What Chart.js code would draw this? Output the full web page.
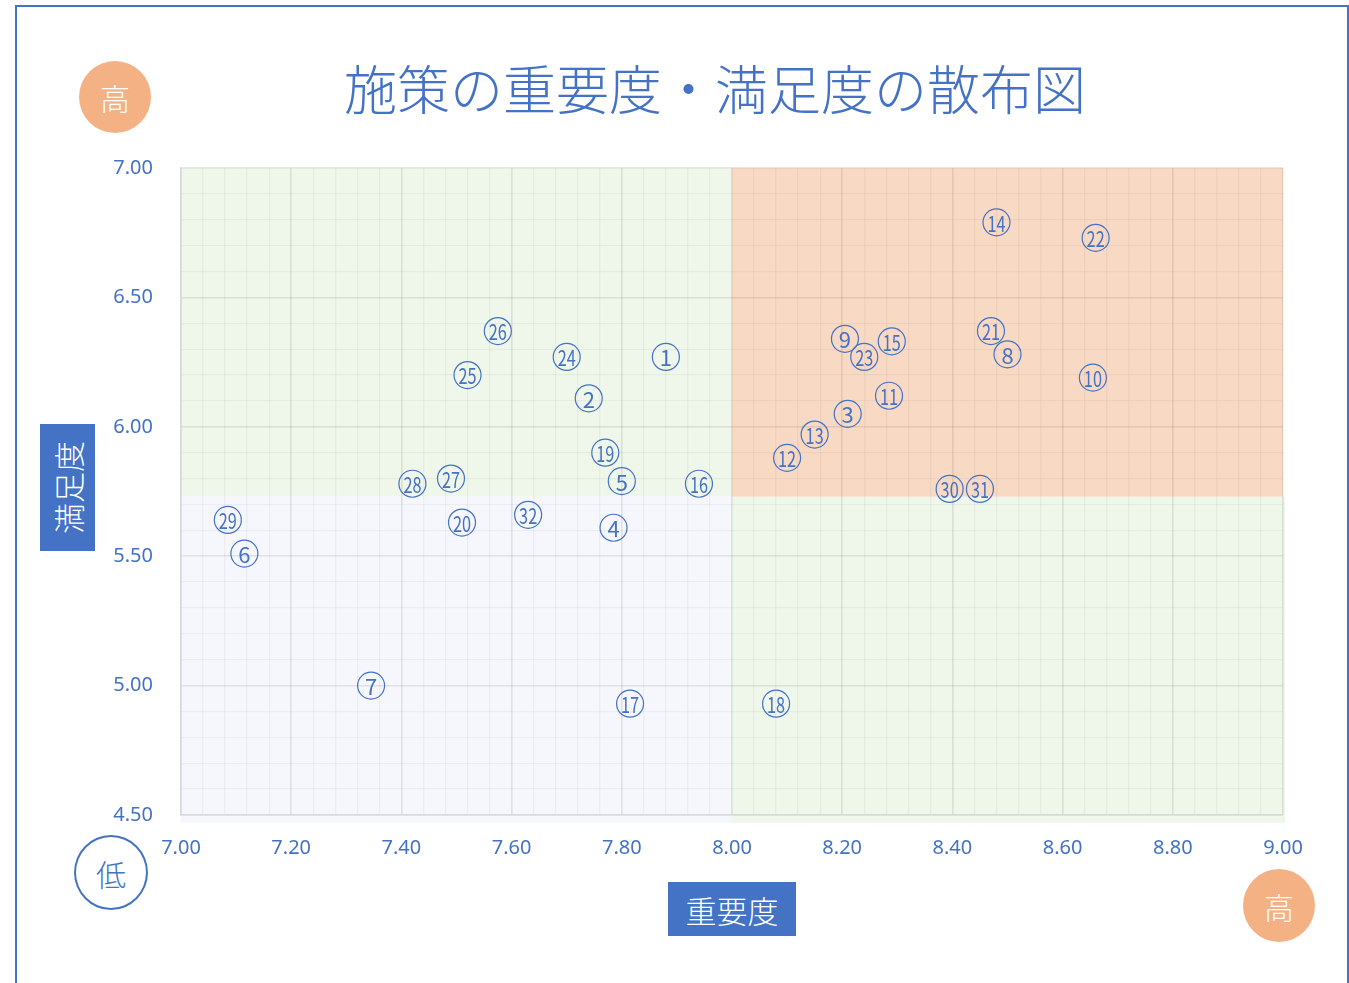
<!DOCTYPE html>
<html lang="ja">
<head>
<meta charset="utf-8">
<title>施策の重要度・満足度の散布図</title>
<script src="https://cdn.jsdelivr.net/npm/chart.js@4.4.1/dist/chart.umd.min.js"></script>
<style>
  html, body { margin: 0; padding: 0; background: #fff; }
  body { width: 1349px; height: 983px; position: relative; overflow: hidden;
         font-family: "Noto Sans CJK JP", "Noto Sans", sans-serif; }
  #frame { position: absolute; left: 15px; top: 5px; width: 1334px; height: 990px;
           border: 2px solid #4472c4; box-sizing: border-box; }
  #chart { position: absolute; left: 0; top: 0; }
  .title { position: absolute; left: 0; width: 1430px; top: 49px; text-align: center;
           font-size: 53px; font-weight: 300; color: #4472c4; }
  .badge { position: absolute; border-radius: 50%; display: flex; align-items: center;
           justify-content: center; font-size: 30px; font-weight: 300; box-sizing: border-box; }
  .hi { background: #f4b183; color: #fff; }
  .lo { background: #fff; color: #4472c4; border: 2px solid #4472c4; }
  .axisbox { position: absolute; background: #4472c4; color: #fff; display: flex;
             align-items: center; justify-content: center; font-size: 31px; font-weight: 300; }
  .axisbox.y span { transform: rotate(-90deg); white-space: nowrap; display: block; }
</style>
</head>
<body>
<div id="frame"></div>
<canvas id="chart" width="1349" height="983"></canvas>
<div class="title">施策の重要度・満足度の散布図</div>
<div class="badge hi" style="left:79px;top:61px;width:72px;height:72px;">高</div>
<div class="badge lo" style="left:74px;top:835px;width:74px;height:75px;">低</div>
<div class="badge hi" style="left:1243px;top:869px;width:72px;height:73px;">高</div>
<div class="axisbox y" style="left:40px;top:424px;width:55px;height:127px;"><span>満足度</span></div>
<div class="axisbox" style="left:668px;top:882px;width:128px;height:54px;">重要度</div>

<script>
// 施策番号・重要度(x)・満足度(y)
const ids = [1, 2, 3, 4, 5, 6, 7, 8, 9, 10, 11, 12, 13, 14, 15, 16,
             17, 18, 19, 20, 21, 22, 23, 24, 25, 26, 27, 28, 29, 30, 31, 32];
const importance = [7.88, 7.74, 8.21, 7.785, 7.80, 7.115, 7.345, 8.50, 8.205, 8.655, 8.285, 8.10, 8.15, 8.48, 8.29, 7.94,
                    7.815, 8.08, 7.77, 7.51, 8.47, 8.66, 8.24, 7.70, 7.52, 7.575, 7.49, 7.42, 7.085, 8.395, 8.45, 7.63];
const satisfaction = [6.27, 6.11, 6.05, 5.61, 5.79, 5.51, 5.00, 6.28, 6.34, 6.19, 6.12, 5.88, 5.97, 6.79, 6.33, 5.78,
                      4.93, 4.93, 5.90, 5.63, 6.37, 6.73, 6.27, 6.27, 6.20, 6.37, 5.80, 5.78, 5.64, 5.76, 5.76, 5.66];

// 象限の区切り (重要度 8.00 / 満足度 平均)
const xMid = 8.0;
const yMid = 5.73;

const blue = "#4472c4";

const points = ids.map((id, i) => ({ x: importance[i], y: satisfaction[i], id: id }));

// 象限の背景
const quadrantBg = {
  id: "quadrantBg",
  beforeDraw(chart) {
    const { ctx, scales: { x, y } } = chart;
    const l = x.getPixelForValue(7), r = x.getPixelForValue(9), m = x.getPixelForValue(xMid);
    const t = y.getPixelForValue(7), b = y.getPixelForValue(4.47), c = y.getPixelForValue(yMid);
    ctx.save();
    ctx.fillStyle = "#eff6ea";
    ctx.fillRect(l, t, m - l, c - t);
    ctx.fillRect(m, c, r - m + 2, b - c);
    ctx.fillStyle = "#f8d9c4";
    ctx.fillRect(m, t, r - m, c - t);
    ctx.fillStyle = "#f6f7fc";
    ctx.fillRect(l, c, m - l, b - c);
    ctx.restore();
  }
};

// 丸数字のラベル
const numberLabels = {
  id: "numberLabels",
  afterDatasetsDraw(chart) {
    const { ctx } = chart;
    const meta = chart.getDatasetMeta(0);
    ctx.save();
    ctx.fillStyle = blue;
    ctx.textAlign = "center";
    ctx.textBaseline = "middle";
    ctx.font = "400 22px 'Noto Sans CJK JP'";
    meta.data.forEach((pt, i) => {
      const s = String(points[i].id);
      ctx.save();
      ctx.translate(pt.x, pt.y + 1);
      if (s.length > 1) ctx.scale(0.74, 1);
      ctx.fillText(s, 0, 0);
      ctx.restore();
    });
    ctx.restore();
  }
};

new Chart(document.getElementById("chart"), {
  type: "scatter",
  data: {
    datasets: [{
      data: points,
      pointStyle: "circle",
      pointRadius: 13.5,
      pointHoverRadius: 13.5,
      pointBackgroundColor: "rgba(255,255,255,0)",
      pointBorderColor: blue,
      pointBorderWidth: 1.2
    }]
  },
  options: {
    responsive: false,
    animation: false,
    layout: { padding: { left: 0, top: 168, right: 66, bottom: 0 } },
    plugins: {
      legend: { display: false },
      tooltip: { enabled: false }
    },
    scales: {
      x: {
        type: "linear",
        min: 7, max: 9,
        afterFit: (s) => { s.height = 168; },
        border: { display: true, color: "#d9d9d9", width: 1.5 },
        grid: {
          drawTicks: false,
          color: (c) => (c.index % 5 === 0 ? "rgba(90,90,90,0.14)" : "rgba(90,90,90,0.06)"),
          lineWidth: (c) => (c.index % 5 === 0 ? 1.6 : 1.3)
        },
        ticks: {
          stepSize: 0.04,
          autoSkip: false,
          maxRotation: 0,
          padding: 21,
          color: blue,
          font: { family: "'Noto Sans', sans-serif", size: 20 },
          callback: (v, i) => (i % 5 === 0 ? v.toFixed(2) : "")
        }
      },
      y: {
        type: "linear",
        min: 4.5, max: 7,
        afterFit: (s) => { s.width = 181; },
        border: { display: true, color: "#d9d9d9", width: 1.5 },
        grid: {
          drawTicks: false,
          color: (c) => (c.index % 5 === 0 ? "rgba(90,90,90,0.14)" : "rgba(90,90,90,0.06)"),
          lineWidth: (c) => (c.index % 5 === 0 ? 1.6 : 1.3)
        },
        ticks: {
          stepSize: 0.1,
          autoSkip: false,
          padding: 28,
          color: blue,
          font: { family: "'Noto Sans', sans-serif", size: 20 },
          callback: (v, i) => (i % 5 === 0 ? v.toFixed(2) : "")
        }
      }
    }
  },
  plugins: [quadrantBg, numberLabels]
});
</script>
</body>
</html>
